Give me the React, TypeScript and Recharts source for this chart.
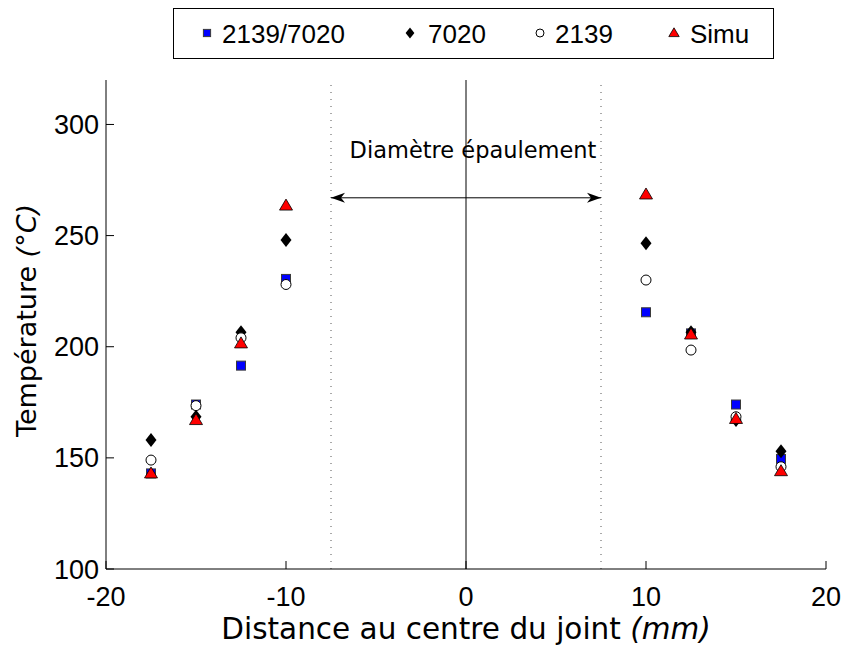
import {
  Legend,
  ReferenceLine,
  Scatter,
  ScatterChart,
  XAxis,
  YAxis,
} from 'recharts';

// distance to the weld centre (mm)
const positions = [-17.5, -15, -12.5, -10, 10, 12.5, 15, 17.5];

// peak temperatures (°C)
const t2139_7020 = [143, 174, 191.5, 230.5, 215.5, 206, 174, 149.5];
const t7020 = [158, 168.5, 206.5, 248, 246.5, 206.5, 167, 153];
const t2139 = [149, 173.5, 204, 228, 230, 198.5, 168.5, 146];
const tSimu = [143, 167, 201.5, 263.5, 268.5, 205.5, 167.5, 144];

const xTicks = [-20, -10, 0, 10, 20];
const yTicks = [100, 150, 200, 250, 300];

const shoulderRadius = 7.5;
const arrowLevel = 267;

const toPoints = (ys: number[]) => positions.map((x, i) => ({ x, y: ys[i] }));

const NUM_FONT = "'Liberation Sans', sans-serif";
const TEXT_FONT = "'DejaVu Sans', sans-serif";

type MarkProps = { cx?: number; cy?: number; scale?: number };

const SquareMark = ({ cx = 0, cy = 0, scale = 1 }: MarkProps) => {
  const h = 4.5 * scale;
  return (
    <rect x={cx - h} y={cy - h} width={2 * h} height={2 * h} fill="#0000ff" stroke="#3a3a3a" strokeWidth={1} />
  );
};

const DiamondMark = ({ cx = 0, cy = 0, scale = 1 }: MarkProps) => {
  const w = 5.5 * scale;
  const h = 7 * scale;
  return <path d={`M${cx},${cy - h}L${cx + w},${cy}L${cx},${cy + h}L${cx - w},${cy}Z`} fill="#000" />;
};

const CircleMark = ({ cx = 0, cy = 0, scale = 1 }: MarkProps) => (
  <circle cx={cx} cy={cy} r={5 * scale} fill="#fff" stroke="#000" strokeWidth={1} />
);

const TriangleMark = ({ cx = 0, cy = 0, scale = 1 }: MarkProps) => {
  const w = 6.5 * scale;
  return (
    <path
      d={`M${cx},${cy - 6.5 * scale}L${cx + w},${cy + 4.5 * scale}L${cx - w},${cy + 4.5 * scale}Z`}
      fill="#ff0000"
      stroke="#000"
      strokeWidth={0.8}
    />
  );
};

const legendItems = [
  { name: '2139/7020', Mark: SquareMark, mx: 34, tx: 49 },
  { name: '7020', Mark: DiamondMark, mx: 237, tx: 255 },
  { name: '2139', Mark: CircleMark, mx: 367, tx: 382 },
  { name: 'Simu', Mark: TriangleMark, mx: 501, tx: 517 },
];

const LegendBox = () => (
  <svg width={601} height={51} style={{ display: 'block' }}>
    <rect x={0.5} y={0.5} width={600} height={50} fill="#fff" stroke="#000" strokeWidth={1} />
    {legendItems.map(({ name, Mark, mx, tx }) => (
      <g key={name}>
        <Mark cx={mx} cy={25} scale={0.8} />
        <text x={tx} y={35} fontSize={26} fontFamily={NUM_FONT} fill="#000">
          {name}
        </text>
      </g>
    ))}
  </svg>
);

// double arrow between the shoulder edges, with its caption
const ShoulderArrow = (props: any) => {
  const { x1, y1, x2 } = props;
  const y = y1;
  const len = 14;
  const half = 5;
  const back = 10;
  return (
    <g>
      <line x1={x1} y1={y} x2={x2} y2={y} stroke="#000" strokeWidth={1} />
      <path d={`M${x1},${y}L${x1 + len},${y - half}L${x1 + back},${y}L${x1 + len},${y + half}Z`} fill="#000" />
      <path d={`M${x2},${y}L${x2 - len},${y - half}L${x2 - back},${y}L${x2 - len},${y + half}Z`} fill="#000" />
      <text x={(x1 + x2) / 2 + 7} y={y - 40} textAnchor="middle" fontSize={22.5} fontFamily={TEXT_FONT} fill="#000">
        Diamètre épaulement
      </text>
    </g>
  );
};

const YTitle = ({ viewBox }: any) => {
  const cy = viewBox.y + viewBox.height / 2 - 4;
  const x = 36;
  return (
    <text
      x={x}
      y={cy}
      transform={`rotate(-90, ${x}, ${cy})`}
      textAnchor="middle"
      fontSize={27}
      fontFamily={TEXT_FONT}
      fill="#000"
    >
      Température <tspan fontStyle="italic">(°C)</tspan>
    </text>
  );
};

const XTitle = ({ viewBox }: any) => {
  const cx = viewBox.x + viewBox.width / 2;
  return (
    <text x={cx} y={639} textAnchor="middle" fontSize={29.5} fontFamily={TEXT_FONT} fill="#000">
      Distance au centre du joint <tspan fontStyle="italic">(mm)</tspan>
    </text>
  );
};

const tickStyle = { fontSize: 27, fill: '#000', fontFamily: NUM_FONT };

export default function App() {
  return (
    <div style={{ position: 'absolute', left: 0, top: 0, background: '#fff' }}>
      <ScatterChart width={845} height={645} margin={{ top: 80, right: 19, bottom: 36, left: 46 }}>
        <XAxis
          type="number"
          dataKey="x"
          domain={[-20, 20]}
          ticks={xTicks}
          allowDataOverflow
          height={40}
          tickSize={-8}
          tickMargin={26}
          tick={tickStyle}
          axisLine={{ stroke: '#000' }}
          tickLine={{ stroke: '#000' }}
          label={<XTitle />}
        />
        <XAxis
          xAxisId="top"
          orientation="top"
          type="number"
          domain={[-20, 20]}
          ticks={xTicks}
          allowDataOverflow
          height={0}
          tickSize={-8}
          tick={false}
          axisLine={{ stroke: '#000' }}
          tickLine={{ stroke: '#000' }}
        />
        <YAxis
          type="number"
          dataKey="y"
          domain={[100, 320]}
          ticks={yTicks}
          allowDataOverflow
          width={60}
          tickSize={-8}
          tickMargin={15}
          tick={tickStyle}
          axisLine={{ stroke: '#000' }}
          tickLine={{ stroke: '#000' }}
          label={<YTitle />}
        />
        <YAxis
          yAxisId="right"
          orientation="right"
          type="number"
          domain={[100, 320]}
          ticks={yTicks}
          allowDataOverflow
          width={0}
          tickSize={-8}
          tick={false}
          axisLine={{ stroke: '#000' }}
          tickLine={{ stroke: '#000' }}
        />
        <ReferenceLine x={-shoulderRadius} stroke="#555" strokeDasharray="1 6" />
        <ReferenceLine x={shoulderRadius} stroke="#555" strokeDasharray="1 6" />
        <ReferenceLine x={0} stroke="#000" strokeWidth={1} />
        <ReferenceLine
          segment={[
            { x: -shoulderRadius, y: arrowLevel },
            { x: shoulderRadius, y: arrowLevel },
          ]}
          shape={<ShoulderArrow />}
        />
        <Legend
          verticalAlign="middle"
          align="center"
          layout="horizontal"
          wrapperStyle={{ position: 'absolute', top: 8, left: 173, width: 601, height: 51 }}
          content={() => <LegendBox />}
        />
        <Scatter name="2139/7020" data={toPoints(t2139_7020)} shape={(p: any) => <SquareMark cx={p.cx} cy={p.cy} />} isAnimationActive={false} />
        <Scatter name="7020" data={toPoints(t7020)} shape={(p: any) => <DiamondMark cx={p.cx} cy={p.cy} />} isAnimationActive={false} />
        <Scatter name="2139" data={toPoints(t2139)} shape={(p: any) => <CircleMark cx={p.cx} cy={p.cy} />} isAnimationActive={false} />
        <Scatter name="Simu" data={toPoints(tSimu)} shape={(p: any) => <TriangleMark cx={p.cx} cy={p.cy} />} isAnimationActive={false} />
      </ScatterChart>
    </div>
  );
}
